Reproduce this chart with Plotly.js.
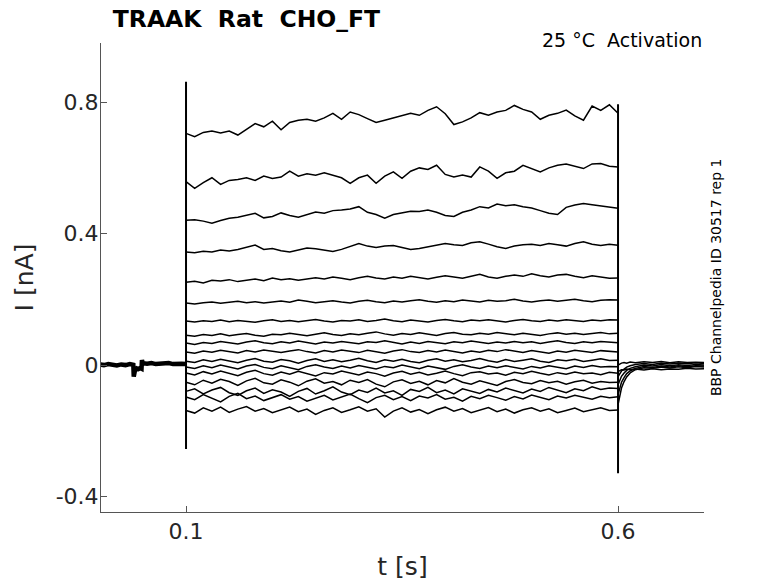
<!DOCTYPE html>
<html>
<head>
<meta charset="utf-8">
<script src="https://cdn.plot.ly/plotly-3.0.1.min.js"></script>
<style>html,body{margin:0;padding:0;background:#fff;}#chart{width:778px;height:583px;}</style>
</head>
<body>
<div id="chart"></div>
<script>
// ---- data ----
var xTickVals = [0.1, 0.6];
var xTickText = ["0.1", "0.6"];
var yTickVals = [-0.4, 0, 0.4, 0.8];
var yTickText = ["-0.4", "0", "0.4", "0.8"];

var stepStart = 0.1, stepEnd = 0.6;

// pre-pulse holding current
var preT = [0, 0.005, 0.01, 0.015, 0.02, 0.025, 0.03, 0.035, 0.039, 0.0395, 0.041, 0.043, 0.045, 0.047, 0.0485, 0.049, 0.05, 0.055, 0.06, 0.065, 0.07, 0.075, 0.08, 0.085, 0.09, 0.095, 0.1];
var preI = [0.002, 0.000, 0.003, 0.001, -0.001, 0.002, 0.000, 0.003, 0.001, -0.035, -0.015, -0.010, -0.012, -0.009, -0.011, 0.015, 0.006, 0.004, 0.006, 0.003, 0.005, 0.004, 0.006, 0.003, 0.005, 0.004, 0.003];

// capacitive transients (min, max)
var onsetPeak = [-0.255, 0.862];
var offsetPeak = [-0.329, 0.794];

// step currents, sampled every 10 ms from 0.1 to 0.6 s
var sweep1 = [0.705,0.695,0.708,0.712,0.706,0.712,0.700,0.718,0.735,0.725,0.742,0.716,0.738,0.745,0.748,0.742,0.752,0.766,0.748,0.770,0.762,0.750,0.738,0.745,0.752,0.758,0.766,0.760,0.775,0.786,0.765,0.732,0.740,0.752,0.768,0.760,0.770,0.775,0.790,0.778,0.770,0.748,0.760,0.766,0.776,0.758,0.745,0.788,0.775,0.792,0.766];
var sweep2 = [0.558,0.538,0.555,0.570,0.550,0.562,0.565,0.570,0.562,0.575,0.568,0.572,0.590,0.575,0.582,0.578,0.585,0.578,0.570,0.553,0.570,0.578,0.553,0.575,0.588,0.568,0.590,0.600,0.595,0.608,0.580,0.572,0.578,0.572,0.603,0.590,0.568,0.585,0.590,0.608,0.598,0.588,0.600,0.608,0.612,0.605,0.598,0.612,0.613,0.605,0.603];
var sweep3 = [0.441,0.442,0.438,0.432,0.440,0.447,0.450,0.455,0.462,0.448,0.452,0.463,0.455,0.450,0.458,0.466,0.462,0.470,0.472,0.475,0.482,0.465,0.458,0.447,0.458,0.462,0.468,0.467,0.472,0.465,0.455,0.452,0.465,0.472,0.482,0.478,0.490,0.485,0.488,0.482,0.478,0.470,0.462,0.458,0.480,0.487,0.492,0.488,0.484,0.480,0.477];
var sweep4 = [0.344,0.342,0.346,0.344,0.350,0.347,0.352,0.358,0.365,0.352,0.355,0.348,0.344,0.350,0.356,0.354,0.350,0.346,0.352,0.360,0.370,0.362,0.358,0.362,0.364,0.358,0.352,0.355,0.360,0.364,0.370,0.366,0.364,0.372,0.375,0.368,0.360,0.355,0.362,0.366,0.368,0.364,0.370,0.366,0.362,0.370,0.375,0.368,0.364,0.368,0.365];
var sweep5 = [0.252,0.255,0.250,0.258,0.256,0.260,0.254,0.258,0.262,0.257,0.265,0.260,0.263,0.258,0.262,0.266,0.262,0.268,0.264,0.260,0.266,0.270,0.265,0.262,0.268,0.264,0.270,0.266,0.262,0.267,0.272,0.268,0.264,0.270,0.276,0.268,0.264,0.270,0.274,0.270,0.278,0.272,0.268,0.274,0.276,0.270,0.266,0.272,0.268,0.264,0.265];
var sweep6 = [0.189,0.186,0.190,0.192,0.188,0.191,0.194,0.190,0.193,0.189,0.192,0.195,0.191,0.198,0.194,0.190,0.193,0.196,0.192,0.189,0.194,0.197,0.193,0.190,0.195,0.192,0.196,0.199,0.194,0.191,0.196,0.193,0.198,0.195,0.192,0.197,0.194,0.196,0.200,0.195,0.192,0.196,0.198,0.194,0.197,0.200,0.196,0.193,0.197,0.199,0.198];
var sweep7 = [0.134,0.131,0.135,0.133,0.137,0.132,0.136,0.134,0.130,0.135,0.138,0.133,0.136,0.132,0.135,0.139,0.134,0.131,0.136,0.134,0.138,0.133,0.136,0.140,0.135,0.132,0.137,0.134,0.131,0.136,0.139,0.135,0.132,0.137,0.135,0.138,0.134,0.131,0.136,0.139,0.135,0.133,0.137,0.134,0.138,0.136,0.133,0.137,0.135,0.138,0.137];
var sweep8 = [0.091,0.088,0.093,0.090,0.095,0.089,0.093,0.096,0.091,0.088,0.094,0.092,0.097,0.093,0.089,0.094,0.098,0.093,0.090,0.095,0.092,0.097,0.101,0.095,0.091,0.096,0.093,0.098,0.094,0.090,0.096,0.099,0.094,0.092,0.097,0.094,0.099,0.095,0.092,0.097,0.094,0.090,0.095,0.098,0.094,0.097,0.093,0.096,0.099,0.095,0.097];
var sweep9 = [0.067,0.063,0.069,0.066,0.072,0.068,0.064,0.070,0.074,0.068,0.065,0.071,0.067,0.073,0.069,0.064,0.070,0.067,0.072,0.068,0.065,0.071,0.069,0.074,0.068,0.064,0.070,0.066,0.072,0.069,0.065,0.071,0.068,0.073,0.069,0.066,0.070,0.067,0.072,0.068,0.071,0.066,0.070,0.074,0.069,0.066,0.071,0.068,0.072,0.069,0.068];
var sweep10 = [0.040,0.036,0.043,0.039,0.045,0.041,0.037,0.044,0.040,0.046,0.042,0.038,0.043,0.047,0.041,0.037,0.044,0.040,0.046,0.042,0.038,0.045,0.041,0.036,0.043,0.047,0.041,0.038,0.044,0.040,0.046,0.042,0.037,0.043,0.039,0.045,0.041,0.047,0.042,0.038,0.044,0.040,0.036,0.043,0.039,0.045,0.041,0.038,0.044,0.041,0.040];
var sweep11 = [0.012,0.008,0.016,0.011,0.018,0.013,0.007,0.015,0.020,0.012,0.009,0.017,0.013,0.006,0.014,0.019,0.011,0.016,0.010,0.015,0.021,0.013,0.008,0.016,0.012,0.018,0.011,0.007,0.015,0.019,0.012,0.016,0.010,0.014,0.020,0.013,0.009,0.017,0.011,0.015,0.019,0.012,0.008,0.016,0.013,0.018,0.011,0.015,0.019,0.014,0.015];
var sweep12 = [-0.006,-0.010,-0.002,-0.008,0.000,-0.005,-0.012,-0.003,0.002,-0.007,-0.011,-0.002,-0.008,-0.014,-0.004,0.001,-0.006,-0.010,-0.003,-0.009,-0.001,-0.006,-0.012,-0.004,-0.008,0.000,-0.005,-0.011,-0.003,-0.007,-0.013,-0.004,0.001,-0.006,-0.010,-0.003,-0.008,-0.002,-0.007,-0.012,-0.004,-0.009,-0.002,-0.006,-0.011,-0.003,-0.007,-0.001,-0.006,-0.004,-0.005];
var sweep13 = [-0.024,-0.030,-0.020,-0.027,-0.018,-0.025,-0.032,-0.022,-0.016,-0.026,-0.031,-0.021,-0.028,-0.019,-0.025,-0.033,-0.023,-0.027,-0.018,-0.024,-0.030,-0.021,-0.026,-0.034,-0.024,-0.019,-0.028,-0.022,-0.030,-0.025,-0.018,-0.026,-0.032,-0.023,-0.020,-0.027,-0.024,-0.031,-0.022,-0.026,-0.019,-0.025,-0.030,-0.023,-0.028,-0.021,-0.026,-0.024,-0.029,-0.022,-0.025];
var sweep14 = [-0.052,-0.060,-0.046,-0.055,-0.043,-0.050,-0.062,-0.048,-0.040,-0.054,-0.058,-0.045,-0.052,-0.063,-0.049,-0.042,-0.055,-0.050,-0.060,-0.046,-0.053,-0.044,-0.058,-0.066,-0.051,-0.045,-0.056,-0.049,-0.060,-0.047,-0.054,-0.041,-0.052,-0.058,-0.048,-0.055,-0.062,-0.050,-0.044,-0.053,-0.057,-0.047,-0.054,-0.049,-0.058,-0.051,-0.046,-0.055,-0.050,-0.053,-0.052];
var sweep15 = [-0.080,-0.072,-0.088,-0.076,-0.068,-0.084,-0.092,-0.078,-0.070,-0.086,-0.075,-0.082,-0.095,-0.080,-0.071,-0.088,-0.078,-0.066,-0.082,-0.090,-0.076,-0.083,-0.070,-0.085,-0.078,-0.092,-0.074,-0.080,-0.068,-0.084,-0.076,-0.088,-0.072,-0.079,-0.086,-0.074,-0.082,-0.070,-0.078,-0.085,-0.073,-0.080,-0.068,-0.076,-0.084,-0.072,-0.078,-0.066,-0.074,-0.070,-0.071];
var sweep16 = [-0.097,-0.105,-0.090,-0.100,-0.112,-0.095,-0.086,-0.102,-0.094,-0.108,-0.098,-0.090,-0.104,-0.096,-0.110,-0.100,-0.092,-0.106,-0.097,-0.088,-0.102,-0.114,-0.099,-0.092,-0.105,-0.096,-0.108,-0.094,-0.100,-0.090,-0.104,-0.098,-0.110,-0.095,-0.102,-0.092,-0.099,-0.107,-0.096,-0.103,-0.091,-0.098,-0.105,-0.094,-0.100,-0.092,-0.098,-0.104,-0.095,-0.099,-0.096];
var sweep17 = [-0.138,-0.146,-0.130,-0.140,-0.128,-0.144,-0.134,-0.126,-0.140,-0.132,-0.145,-0.136,-0.128,-0.142,-0.134,-0.150,-0.138,-0.130,-0.144,-0.136,-0.127,-0.140,-0.133,-0.158,-0.140,-0.130,-0.143,-0.135,-0.148,-0.136,-0.128,-0.140,-0.132,-0.145,-0.137,-0.129,-0.142,-0.134,-0.146,-0.136,-0.130,-0.140,-0.133,-0.145,-0.138,-0.131,-0.142,-0.136,-0.130,-0.138,-0.137];

// tail currents after the step
var postT = [0.6, 0.602, 0.604, 0.607, 0.61, 0.614, 0.62, 0.63, 0.64, 0.65, 0.66, 0.67, 0.68, 0.69, 0.7];
var tailA = [-0.12,-0.095,-0.07,-0.05,-0.036,-0.024,-0.014,-0.008,-0.010,-0.006,-0.009,-0.005,-0.008,-0.004,-0.006];
var tailB = [-0.09,-0.07,-0.052,-0.038,-0.026,-0.018,-0.010,-0.004,-0.007,-0.003,-0.006,-0.002,-0.005,-0.002,-0.003];
var tailC = [-0.06,-0.045,-0.034,-0.024,-0.016,-0.010,-0.005,0.000,-0.003,0.002,-0.002,0.001,-0.001,0.002,0.000];
var tailD = [-0.035,-0.025,-0.018,-0.012,-0.006,-0.002,0.002,0.005,0.002,0.006,0.003,0.006,0.004,0.007,0.005];
var tailE = [0.0,0.004,0.006,0.008,0.006,0.009,0.007,0.010,0.008,0.011,0.007,0.010,0.008,0.009,0.008];
var tailF = [-0.02,-0.016,-0.014,-0.015,-0.012,-0.014,-0.012,-0.015,-0.011,-0.014,-0.012,-0.013,-0.010,-0.012,-0.011];

var sweeps = [sweep1,sweep2,sweep3,sweep4,sweep5,sweep6,sweep7,sweep8,sweep9,sweep10,sweep11,sweep12,sweep13,sweep14,sweep15,sweep16,sweep17];
var tails = [tailA,tailB,tailC,tailD,tailE,tailF];

// ---- build traces ----
var traces = [];
var lineStyle = {color: '#000000', width: 1.5};

traces.push({x: preT, y: preI, mode: 'lines', line: {color: '#000000', width: 4.5}, hoverinfo: 'skip'});

sweeps.forEach(function (s) {
  var n = s.length;
  var t = s.map(function (_, i) { return stepStart + i * (stepEnd - stepStart) / (n - 1); });
  traces.push({x: t, y: s, mode: 'lines', line: lineStyle, hoverinfo: 'skip'});
});

tails.forEach(function (s) {
  traces.push({x: postT, y: s, mode: 'lines', line: lineStyle, hoverinfo: 'skip'});
});

traces.push({x: [stepStart, stepStart], y: onsetPeak, mode: 'lines', line: {color: '#000000', width: 2}, hoverinfo: 'skip'});
traces.push({x: [stepEnd, stepEnd], y: offsetPeak, mode: 'lines', line: {color: '#000000', width: 2}, hoverinfo: 'skip'});

var axisFont = {family: 'DejaVu Sans, sans-serif', size: 22, color: '#262626'};
var titleFont = {family: 'DejaVu Sans, sans-serif', size: 25, color: '#262626'};

var layout = {
  width: 778, height: 583,
  margin: {l: 101, r: 74, t: 43, b: 71, pad: 0},
  paper_bgcolor: '#ffffff', plot_bgcolor: '#ffffff',
  showlegend: false,
  font: {family: 'DejaVu Sans, sans-serif', color: '#262626'},
  title: {
    text: '<b>TRAAK  Rat  CHO_FT</b>',
    font: {family: 'DejaVu Sans, sans-serif', size: 23.5, color: '#000000'},
    xref: 'container', yref: 'container', x: 0.145, xanchor: 'left', y: 0.968, yanchor: 'middle'
  },
  xaxis: {
    range: [0.0016, 0.6995], showgrid: false, zeroline: false,
    showline: true, linecolor: '#555555', linewidth: 1, mirror: false,
    ticks: 'inside', ticklen: 6, tickcolor: '#555555',
    tickvals: xTickVals, ticktext: xTickText, tickfont: axisFont,
    title: {text: 't [s]', font: titleFont, standoff: 14}
  },
  yaxis: {
    range: [-0.447, 0.98], showgrid: false, zeroline: false,
    showline: true, linecolor: '#555555', linewidth: 1, mirror: false,
    ticks: 'inside', ticklen: 6, tickcolor: '#555555',
    tickvals: yTickVals, ticktext: yTickText, tickfont: axisFont, ticklabelstandoff: -3,
    title: {text: 'I [nA]', font: titleFont, standoff: 14}
  },
  annotations: [
    {text: '25 °C  Activation', xref: 'paper', yref: 'paper', x: 1, y: 1.006, xanchor: 'right', yanchor: 'middle',
     showarrow: false, font: {family: 'DejaVu Sans, sans-serif', size: 19, color: '#000000'}},
    {text: 'BBP Channelpedia ID 30517 rep 1', xref: 'paper', yref: 'paper', x: 1.02, y: 0.501, xanchor: 'center', yanchor: 'middle',
     textangle: -90, showarrow: false, font: {family: 'DejaVu Sans, sans-serif', size: 14, color: '#000000'}}
  ]
};

Plotly.newPlot('chart', traces, layout, {staticPlot: true, displayModeBar: false});
</script>
</body>
</html>
